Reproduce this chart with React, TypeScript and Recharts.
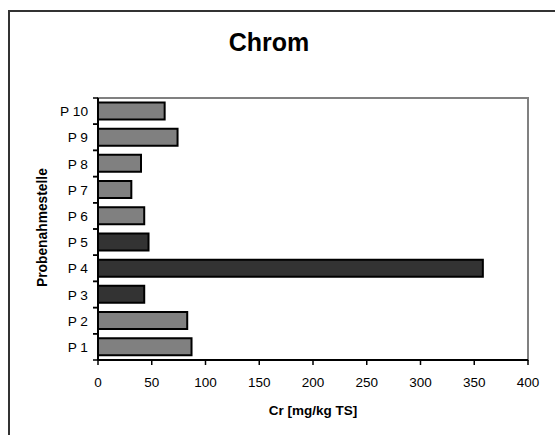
import { BarChart, Bar, Cell, XAxis, YAxis, ReferenceArea } from "recharts"

const sites = ["P 1", "P 2", "P 3", "P 4", "P 5", "P 6", "P 7", "P 8", "P 9", "P 10"]
const chromValues = [87, 83, 43, 358, 47, 43, 31, 40, 74, 62]
const darkSites = ["P 3", "P 4", "P 5"]
const xTicks = [0, 50, 100, 150, 200, 250, 300, 350, 400]

const data = sites.map((name, i) => ({ name, cr: chromValues[i] }))

const font = "Arial, 'Liberation Sans', sans-serif"

// category tick: label plus Excel-style tick marks at the band edges
function SiteTick(props: any) {
  const { x, y, payload } = props
  const half = payload.offset ?? 13
  return (
    <g>
      <text x={x} y={y} dy={5} textAnchor="end" fontSize={13.7} fill="#000" fontFamily={font}>
        {payload.value}
      </text>
      <line x1={x + 5} x2={x + 10} y1={y - half} y2={y - half} stroke="#000" strokeWidth={1.5} />
      <line x1={x + 5} x2={x + 10} y1={y + half} y2={y + half} stroke="#000" strokeWidth={1.5} />
    </g>
  )
}

export default function App() {
  return (
    <div style={{ position: "absolute", left: 0, top: 0, width: 555, height: 435, background: "#fff", overflow: "hidden", fontFamily: font }}>
      <div style={{ position: "absolute", left: 8, top: 10, width: 580, height: 460, border: "2px solid #333", boxSizing: "border-box" }} />
      <div style={{ position: "absolute", left: 0, width: 538, top: 28, textAlign: "center", fontSize: 25, fontWeight: "bold", color: "#000" }}>
        Chrom
      </div>
      <BarChart
        width={555}
        height={435}
        data={data}
        layout="vertical"
        margin={{ top: 98, right: 27, bottom: 15, left: 38 }}
        barCategoryGap="17%"
        style={{ position: "absolute", left: 0, top: 0 }}
      >
        <ReferenceArea x1={0} x2={400} fill="none" stroke="#808080" strokeWidth={2} />
        <XAxis
          type="number"
          domain={[0, 400]}
          ticks={xTicks}
          interval={0}
          height={60}
          tick={{ fontSize: 13.5, fill: "#000", fontFamily: font }}
          tickSize={5}
          tickMargin={12}
          axisLine={{ stroke: "#000", strokeWidth: 2 }}
          tickLine={{ stroke: "#000", strokeWidth: 1.5 }}
          label={{ value: "Cr [mg/kg TS]", position: "insideBottom", offset: 5.5, fontSize: 13.5, fontWeight: "bold", fill: "#000", fontFamily: font }}
        />
        <YAxis
          dataKey="name"
          type="category"
          reversed
          width={60}
          tickLine={false}
          tickSize={5}
          tickMargin={5}
          axisLine={{ stroke: "#000", strokeWidth: 2 }}
          tick={<SiteTick />}
          label={{ value: "Probenahmestelle", angle: -90, position: "insideLeft", offset: 4, dy: 58, fontSize: 13.8, fontWeight: "bold", fill: "#000", fontFamily: font }}
        />
        <Bar dataKey="cr" stroke="#000" strokeWidth={2} isAnimationActive={false}>
          {data.map((d) => (
            <Cell key={d.name} fill={darkSites.includes(d.name) ? "#333333" : "#808080"} />
          ))}
        </Bar>
      </BarChart>
    </div>
  )
}
